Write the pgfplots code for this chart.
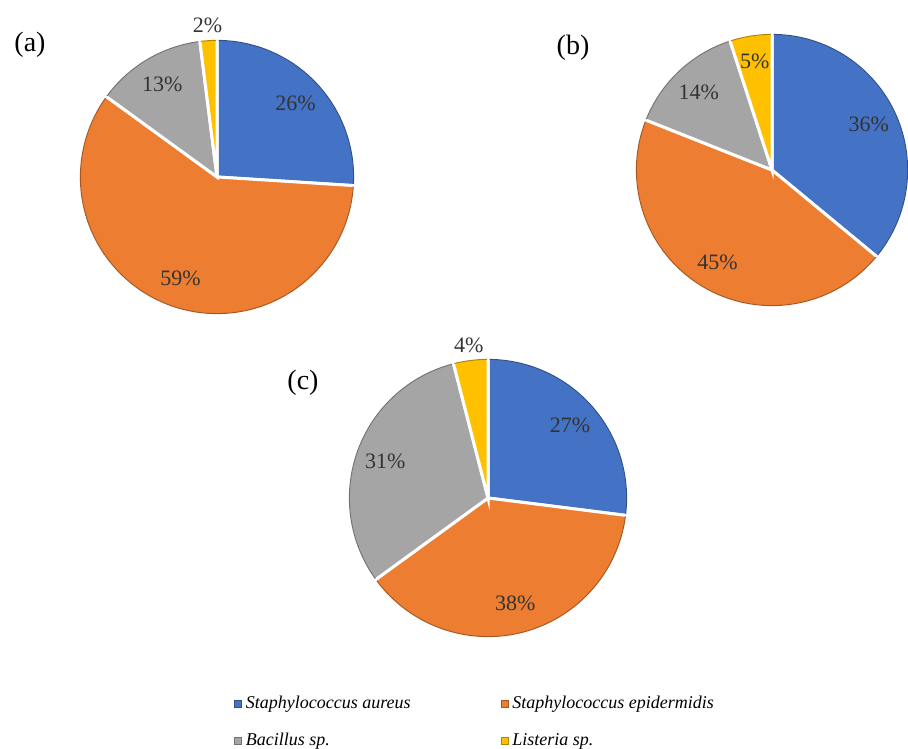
\documentclass[border=0pt]{standalone}
\usepackage{fontspec}
\setmainfont{Liberation Serif}
\usepackage{pgfplots}
\pgfplotsset{compat=1.18}

\definecolor{pblue}{HTML}{4472C4}
\definecolor{porange}{HTML}{ED7D31}
\definecolor{pgray}{HTML}{A5A5A5}
\definecolor{pyellow}{HTML}{FFC000}

\newcommand\pctfont{\fontsize{11}{13}\selectfont}
\newcommand\panelfont{\fontsize{14}{16}\selectfont}

% #1 cx, #2 cy, #3 radius (px), #4 list value/colour/label radius factor
\newcommand\pie[4]{%
  \gdef\cum{0}%
  \foreach \v/\c/\f in {#4} {%
    \pgfmathsetmacro\aa{90-3.6*\cum}%
    \pgfmathsetmacro\ab{90-3.6*(\cum+\v)}%
    \pgfmathsetmacro\am{(\aa+\ab)/2}%
    \pgfmathsetmacro\rr{0.5*#3}%
    \pgfmathsetmacro\rd{0.5*#3-0.7}%
    \pgfmathsetmacro\rl{0.5*#3*\f}%
    \edef\temp{%
      \noexpand\filldraw[fill=\c, draw=white, line width=1.5pt]
        (axis cs:#1,#2) -- ++(\aa:\rr pt) arc[start angle=\aa, end angle=\ab, radius=\rr pt] -- cycle;
      \noexpand\draw[\c!70!black, line width=0.5pt]
        ([shift={(\aa-0.4:\rd pt)}]axis cs:#1,#2) arc[start angle=\aa-0.4, end angle=\ab+0.4, radius=\rd pt];
      \noexpand\node[font=\noexpand\pctfont, text=black!80, inner sep=0pt]
        at ([shift={(\am:\rl pt)}]axis cs:#1,#2) {\v\noexpand\%};
    }%
    \temp
    \pgfmathsetmacro\cumn{\cum+\v}%
    \xdef\cum{\cumn}%
  }%
}

\begin{document}
\begin{tikzpicture}
\begin{axis}[
  x=0.5pt, y=0.5pt,
  xmin=0, xmax=908, ymin=0, ymax=748,
  hide axis, clip=false,
  legend columns=2,
  legend cell align={left},
  legend image code/.code={\filldraw[#1, line width=0.3pt] (0pt,-1.75pt) rectangle (3.5pt,1.75pt);},
  legend style={at={(0.251,0.081)}, anchor=north west, draw=none, fill=none,
    font=\fontsize{9}{11}\selectfont\itshape,
    /tikz/every even column/.append style={column sep=43pt},
    /tikz/row sep=7pt},
]
\addlegendimage{fill=pblue, draw=pblue!70!black}
\addlegendentry{Staphylococcus aureus}
\addlegendimage{fill=porange, draw=porange!70!black}
\addlegendentry{Staphylococcus epidermidis}
\addlegendimage{fill=pgray, draw=pgray!70!black}
\addlegendentry{Bacillus sp.}
\addlegendimage{fill=pyellow, draw=pyellow!70!black}
\addlegendentry{Listeria sp.}

% (a)
\pie{217}{571}{138}{26/pblue/0.78, 59/porange/0.78, 13/pgray/0.78, 2/pyellow/1.1}
% (b)
\pie{772}{578}{137}{36/pblue/0.78, 45/porange/0.78, 14/pgray/0.78, 5/pyellow/0.8}
% (c)
\pie{488}{250}{140}{27/pblue/0.78, 38/porange/0.78, 31/pgray/0.78, 4/pyellow/1.1}

\node[font=\panelfont] at (axis cs:30,703) {(a)};
\node[font=\panelfont] at (axis cs:573,700) {(b)};
\node[font=\panelfont] at (axis cs:303,365) {(c)};
\end{axis}
\pgfresetboundingbox
\useasboundingbox (0,0) rectangle (454pt,374pt);
\end{tikzpicture}
\end{document}
